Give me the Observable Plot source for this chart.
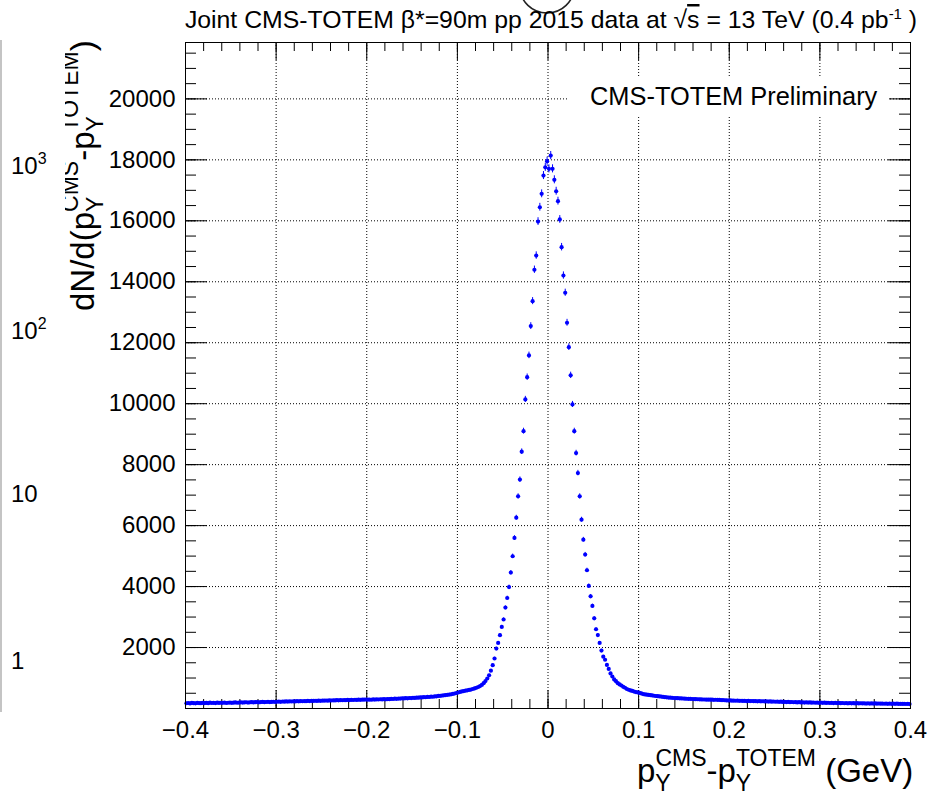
<!DOCTYPE html>
<html><head><meta charset="utf-8">
<script src="https://cdn.jsdelivr.net/npm/d3@7"></script>
<script src="https://cdn.jsdelivr.net/npm/@observablehq/plot@0.6"></script>
<style>
html,body{margin:0;padding:0;background:#fff;}
#chart{position:relative;width:932px;height:798px;overflow:hidden;}
svg{font-family:"Liberation Sans",Arial,Helvetica,sans-serif;}
</style></head><body><div id="chart"></div>
<script>
// histogram: 400 bins from -0.4 to 0.4 GeV
const binLow = -0.4;
const binWidth = 0.002;
const counts = [
172,180,168,185,176,170,182,178,174,186,
179,184,175,190,181,186,177,192,183,188,
185,194,180,189,196,186,191,199,188,195,
201,193,198,205,196,203,209,200,206,212,
204,210,215,207,213,219,211,217,222,214,
221,226,218,229,224,231,227,234,229,236,
232,239,235,242,238,245,240,248,244,251,
247,254,250,257,252,260,256,263,258,266,
262,269,264,272,268,275,270,278,274,281,
277,284,279,287,282,290,285,292,288,296,
289,294,287,297,292,300,295,303,298,306,
302,310,307,316,312,321,318,327,324,333,
330,338,335,344,341,350,347,356,354,363,
362,371,369,379,377,388,386,397,401,412,
416,425,431,440,448,456,466,478,492,508,
525,545,560,572,584,597,610,622,640,658,
680,705,735,775,830,900,985,1090,1240,1420,
1640,1965,2150,2405,2675,2920,3310,3625,3985,4460,
4995,5595,6260,6960,7510,8425,9100,10140,10870,11585,
12545,13365,14395,14860,15975,16445,16885,17485,17755,17955,
17705,18140,17705,17345,16970,16645,16045,15135,14205,13640,
12655,11855,10930,9975,9100,8380,7725,6960,6195,5540,
5050,4535,4020,3680,3365,2960,2600,2410,2150,1900,
1700,1600,1430,1300,1150,1050,955,895,830,790,
755,710,680,640,615,592,575,555,540,528,
515,495,472,462,452,444,436,428,418,410,
404,396,390,381,372,365,360,354,350,344,
340,338,333,330,328,323,320,319,316,312,
310,307,304,301,298,295,296,291,293,288,
290,285,287,283,280,276,278,270,266,262,
265,258,261,255,259,251,254,248,252,245,
249,242,246,240,243,237,241,234,238,231,
235,228,232,225,229,222,226,219,223,216,
220,212,217,209,214,205,210,200,207,198,
204,196,201,193,199,191,197,189,195,187,
193,185,191,183,189,181,187,179,185,177,
183,175,181,173,179,171,177,170,176,168,
174,167,172,165,170,163,169,162,167,160,
166,159,164,157,163,156,161,155,160,153,
158,152,157,150,155,149,154,147,152,146
];
const xMajorTicks = [-0.4,-0.3,-0.2,-0.1,0,0.1,0.2,0.3,0.4];
const xMinorTicks = [-0.4,-0.38,-0.36,-0.34,-0.32,-0.3,-0.28,-0.26,-0.24,-0.22,-0.2,-0.18,-0.16,-0.14,-0.12,-0.1,-0.08,-0.06,-0.04,-0.02,0,0.02,0.04,0.06,0.08,0.1,0.12,0.14,0.16,0.18,0.2,0.22,0.24,0.26,0.28,0.3,0.32,0.34,0.36,0.38,0.4];
const xGridTicks = [-0.3,-0.2,-0.1,0,0.1,0.2,0.3];
const yMajorTicks = [2000,4000,6000,8000,10000,12000,14000,16000,18000,20000];
const yMinorTicks = [500,1000,1500,2000,2500,3000,3500,4000,4500,5000,5500,6000,6500,7000,7500,8000,8500,9000,9500,10000,10500,11000,11500,12000,12500,13000,13500,14000,14500,15000,15500,16000,16500,17000,17500,18000,18500,19000,19500,20000,20500,21000,21500];
const yMax = 21850;
const logLabels = [["10","3"],["10","2"],["10",""],["1",""]];

const W = 932, H = 798;
const mT = 42, mB = 90, mL = 185, mR = 22;
const pH = H - mT - mB, pW = W - mL - mR;

const bins = counts.map((c, i) => ({
  x: binLow + binWidth * (i + 0.5),
  x1: binLow + binWidth * i,
  x2: binLow + binWidth * (i + 1),
  y: c,
  lo: c - Math.sqrt(c),
  hi: c + Math.sqrt(c)
}));
const fmt = d => d === 0 ? "0" : (d < 0 ? "\u2212" : "") + Math.abs(d).toFixed(1);
const blue = "#0000ff";
const font = "Liberation Sans, Arial, Helvetica, sans-serif";

const chart = Plot.plot({
  width: W, height: H,
  marginTop: mT, marginBottom: mB, marginLeft: mL, marginRight: mR,
  style: {fontFamily: font, background: "white", overflow: "visible"},
  x: {domain: [-0.4, 0.4]},
  y: {domain: [0, yMax]},
  marks: [
    Plot.ruleX(xGridTicks, {x: d => d, stroke: "black", strokeDasharray: "1,2"}),
    Plot.ruleY(yMajorTicks, {y: d => d, stroke: "black", strokeDasharray: "1,2"}),
    // ticks inside the frame (bottom/top/left/right)
    Plot.tickX(xMinorTicks, {x: d => d, insetTop: pH - 9, stroke: "black"}),
    Plot.tickX(xMajorTicks, {x: d => d, insetTop: pH - 18, stroke: "black"}),
    Plot.tickX(xMinorTicks, {x: d => d, insetBottom: pH - 9, stroke: "black"}),
    Plot.tickX(xMajorTicks, {x: d => d, insetBottom: pH - 18, stroke: "black"}),
    Plot.tickY(yMinorTicks, {y: d => d, insetRight: pW - 11, stroke: "black"}),
    Plot.tickY(yMajorTicks, {y: d => d, insetRight: pW - 22, stroke: "black"}),
    Plot.tickY(yMinorTicks, {y: d => d, insetLeft: pW - 11, stroke: "black"}),
    Plot.tickY(yMajorTicks, {y: d => d, insetLeft: pW - 22, stroke: "black"}),
    // data
    Plot.link(bins, {x1: "x1", x2: "x2", y1: "y", y2: "y", stroke: blue, strokeWidth: 1}),
    Plot.ruleX(bins, {x: "x", y1: "lo", y2: "hi", stroke: blue, strokeWidth: 1}),
    Plot.dot(bins, {x: "x", y: "y", r: 2.1, fill: blue, stroke: "none"}),
    Plot.frame({stroke: "black"}),
    Plot.axisX(xMajorTicks, {tickSize: 0, tickPadding: 12, tickFormat: fmt, fontSize: 24, label: null}),
    Plot.axisY(yMajorTicks, {tickSize: 0, tickPadding: 10, tickFormat: d => String(d), fontSize: 24, label: null})
  ]
});
document.getElementById("chart").appendChild(chart);

const svg = d3.select(chart);
// leftover log axis on the left
svg.append("line").attr("x1", 1).attr("x2", 1).attr("y1", 40).attr("y2", 712)
  .attr("stroke", "#b0b0b0").attr("stroke-width", 1.5);
const logY = [174, 339, 502, 669];
logLabels.forEach((l, i) => {
  const t = svg.append("text").attr("x", 11).attr("y", logY[i]).attr("text-anchor", "start")
    .attr("font-family", font).attr("font-size", 24).attr("fill", "black");
  t.append("tspan").text(l[0]);
  if (l[1]) t.append("tspan").attr("dy", -10).attr("font-size", 16).text(l[1]);
});
// circle at the top
svg.append("ellipse").attr("cx", 547).attr("cy", -13).attr("rx", 27).attr("ry", 26)
  .attr("fill", "none").attr("stroke", "#222").attr("stroke-width", 1.6);

// title
const title = svg.append("text").attr("x", 551).attr("y", 28).attr("text-anchor", "middle")
  .attr("font-family", font).attr("font-size", 24.8).attr("fill", "black");
title.append("tspan").text("Joint CMS-TOTEM \u03B2*=90m pp 2015 data at \u221A");
title.append("tspan").style("text-decoration", "overline").text("s");
title.append("tspan").text(" = 13 TeV (0.4 pb");
title.append("tspan").attr("dy", -9).attr("font-size", 15).text("-1");
title.append("tspan").attr("dy", 9).text(" )");

// CMS-TOTEM Preliminary label with white box
svg.append("rect").attr("x", 567).attr("y", 76).attr("width", 322).attr("height", 41).attr("fill", "white");
svg.append("text").attr("x", 590).attr("y", 105).attr("text-anchor", "start").attr("font-family", font).attr("font-size", 25.4)
  .attr("fill", "black").text("CMS-TOTEM Preliminary");

// y axis title (clipped on the left)
const defs = svg.append("defs");
defs.append("clipPath").attr("id", "yclip").append("rect")
  .attr("x", 65).attr("y", 0).attr("width", 120).attr("height", 400);
const yg = svg.append("g").attr("clip-path", "url(#yclip)");
const yt = yg.append("text").attr("transform", "translate(94,311) rotate(-90)").attr("text-anchor", "start")
  .attr("font-family", font).attr("font-size", 33).attr("fill", "black");
yt.append("tspan").text("dN/d(p");
yt.append("tspan").attr("dy", 9).attr("font-size", 23).text("Y");
yt.append("tspan").attr("dy", -25).attr("dx", -15.3).attr("font-size", 23).text("CMS");
yt.append("tspan").attr("dy", 16).text("-p");
yt.append("tspan").attr("dy", 9).attr("font-size", 23).text("Y");
yt.append("tspan").attr("dy", -25).attr("dx", -15.3).attr("font-size", 23).text("TOTEM");
yt.append("tspan").attr("dy", 16).text(")");

// x axis title
const xt = svg.append("text").attr("x", 637).attr("y", 782).attr("text-anchor", "start")
  .attr("font-family", font).attr("font-size", 33).attr("fill", "black");
xt.append("tspan").text("p");
xt.append("tspan").attr("dy", 9).attr("font-size", 23).text("Y");
xt.append("tspan").attr("dy", -25).attr("dx", -15.3).attr("font-size", 23).text("CMS");
xt.append("tspan").attr("dy", 16).text("-p");
xt.append("tspan").attr("dy", 9).attr("font-size", 23).text("Y");
xt.append("tspan").attr("dy", -25).attr("dx", -15.3).attr("font-size", 23).text("TOTEM");
xt.append("tspan").attr("dy", 16).text(" (GeV)");
</script>
</body></html>
